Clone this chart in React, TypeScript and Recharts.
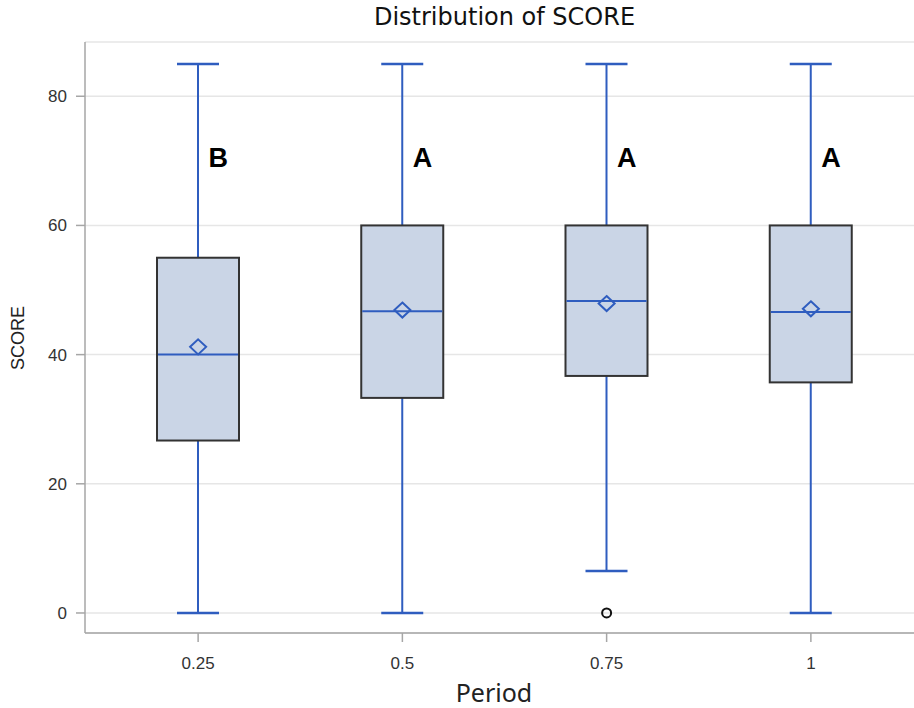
import { ComposedChart, Bar, Scatter, XAxis, YAxis, CartesianGrid } from "recharts";

// Box-plot summary per period
const periods = ["0.25", "0.5", "0.75", "1"];
const whiskerLow = [0, 0, 6.5, 0];
const q1 = [26.7, 33.3, 36.7, 35.7];
const medians = [40, 46.7, 48.3, 46.6];
const q3 = [55, 60, 60, 60];
const whiskerHigh = [85, 85, 85, 85];
const means = [41.2, 46.9, 47.9, 47.1];
const outliers = [null, null, 0, null];
const groupLetters = ["B", "A", "A", "A"];
const yTicks = [0, 20, 40, 60, 80];

const LETTER_Y = 69;

const data = periods.map((period, i) => ({
  period,
  low: whiskerLow[i],
  q1: q1[i],
  median: medians[i],
  q3: q3[i],
  high: whiskerHigh[i],
  mean: means[i],
  outlier: outliers[i],
  letter: groupLetters[i],
}));

const BLUE = "#2F5DBF";
const BOX_FILL = "#CAD5E6";
const EDGE = "#333333";
const FRAME = "#A6A6A6";
const GRID = "#E6E6E6";
const TICK_FONT = { fontFamily: "Liberation Sans, Arial, sans-serif", fontSize: 17, fill: "#333" };

// whole box plot drawn inside the [low, high] range bar
function BoxShape(props: any) {
  const { x, y, width, height, payload } = props;
  const top = Math.min(y, y + height);
  const span = Math.abs(height);
  const toY = (v: number) => top + (span * (payload.high - v)) / (payload.high - payload.low);
  const cx = x + width / 2;
  const cap = 21;
  const yHigh = toY(payload.high);
  const yLow = toY(payload.low);
  const yQ3 = toY(payload.q3);
  const yQ1 = toY(payload.q1);
  const yMed = toY(payload.median);
  return (
    <g>
      <line x1={cx} x2={cx} y1={yHigh} y2={yLow} stroke={BLUE} strokeWidth={2} />
      <line x1={cx - cap} x2={cx + cap} y1={yHigh} y2={yHigh} stroke={BLUE} strokeWidth={2.5} />
      <line x1={cx - cap} x2={cx + cap} y1={yLow} y2={yLow} stroke={BLUE} strokeWidth={2.5} />
      <rect x={x} y={yQ3} width={width} height={yQ1 - yQ3} fill={BOX_FILL} stroke={EDGE} strokeWidth={2} />
      <line x1={x + 1} x2={x + width - 1} y1={yMed} y2={yMed} stroke={BLUE} strokeWidth={2} />
    </g>
  );
}

function MeanDiamond(props: any) {
  const { cx, cy } = props;
  if (cx == null || cy == null) return <g />;
  const w = 8;
  const h = 7.5;
  return (
    <polygon
      points={`${cx},${cy - h} ${cx + w},${cy} ${cx},${cy + h} ${cx - w},${cy}`}
      fill="none"
      stroke={BLUE}
      strokeWidth={2}
    />
  );
}

function OutlierDot(props: any) {
  const { cx, cy, payload } = props;
  if (payload == null || payload.outlier == null || !isFinite(cy)) return <g />;
  return <circle cx={cx} cy={cy} r={4.5} fill="none" stroke="#111" strokeWidth={2} />;
}

function LetterMark(props: any) {
  const { cx, cy, payload } = props;
  if (cx == null || cy == null) return <g />;
  return (
    <text
      x={cx + 20}
      y={cy}
      textAnchor="middle"
      fontFamily="Liberation Sans, Arial, sans-serif"
      fontWeight="bold"
      fontSize={27}
      fill="#000"
    >
      {payload.letter}
    </text>
  );
}

export default function App() {
  return (
    <div style={{ position: "fixed", left: 0, top: 0, width: 914, height: 708, overflow: "hidden", background: "#fff" }}>
      <ComposedChart width={930} height={708} data={data} margin={{ top: 42, right: 6, bottom: 0, left: 0 }}>
        <CartesianGrid vertical={false} stroke={GRID} strokeWidth={1.5} />
        <XAxis
          dataKey="period"
          height={75}
          padding={{ left: 11, right: 11 }}
          axisLine={{ stroke: FRAME, strokeWidth: 1.5 }}
          tickLine={{ stroke: FRAME, strokeWidth: 1.5 }}
          tickSize={9}
          tickMargin={15}
          tick={TICK_FONT}
        />
        <XAxis
          xAxisId="top"
          dataKey="period"
          orientation="top"
          height={0}
          tick={false}
          tickLine={false}
          axisLine={{ stroke: FRAME, strokeWidth: 1.5 }}
        />
        <YAxis
          type="number"
          width={85}
          domain={[-3.1, 88.4]}
          ticks={yTicks}
          allowDataOverflow
          axisLine={{ stroke: FRAME, strokeWidth: 1.5 }}
          tickLine={{ stroke: FRAME, strokeWidth: 1.5 }}
          tickSize={9}
          tickMargin={9}
          tick={TICK_FONT}
        />
        <Bar
          dataKey={(d: any) => [d.low, d.high]}
          barSize={82}
          shape={BoxShape}
          isAnimationActive={false}
        />
        <Scatter dataKey="mean" shape={MeanDiamond} isAnimationActive={false} />
        <Scatter dataKey="outlier" shape={OutlierDot} isAnimationActive={false} />
        <Scatter dataKey={() => LETTER_Y} shape={LetterMark} isAnimationActive={false} />
      </ComposedChart>
      <div
        style={{
          position: "absolute",
          left: 504.5,
          top: 5,
          transform: "translateX(-50%)",
          fontFamily: "DejaVu Sans, sans-serif",
          fontSize: 24,
          lineHeight: 1,
          whiteSpace: "nowrap",
          color: "#111",
        }}
      >
        Distribution of SCORE
      </div>
      <div
        style={{
          position: "absolute",
          left: 18,
          top: 338,
          transform: "translate(-50%, -50%) rotate(-90deg)",
          fontFamily: "Liberation Sans, Arial, sans-serif",
          fontSize: 18,
          lineHeight: 1,
          whiteSpace: "nowrap",
          color: "#222",
        }}
      >
        SCORE
      </div>
      <div
        style={{
          position: "absolute",
          left: 494,
          top: 680,
          transform: "translateX(-50%)",
          fontFamily: "Noto Sans, sans-serif",
          fontSize: 25,
          lineHeight: 1,
          whiteSpace: "nowrap",
          color: "#222",
        }}
      >
        Period
      </div>
    </div>
  );
}
